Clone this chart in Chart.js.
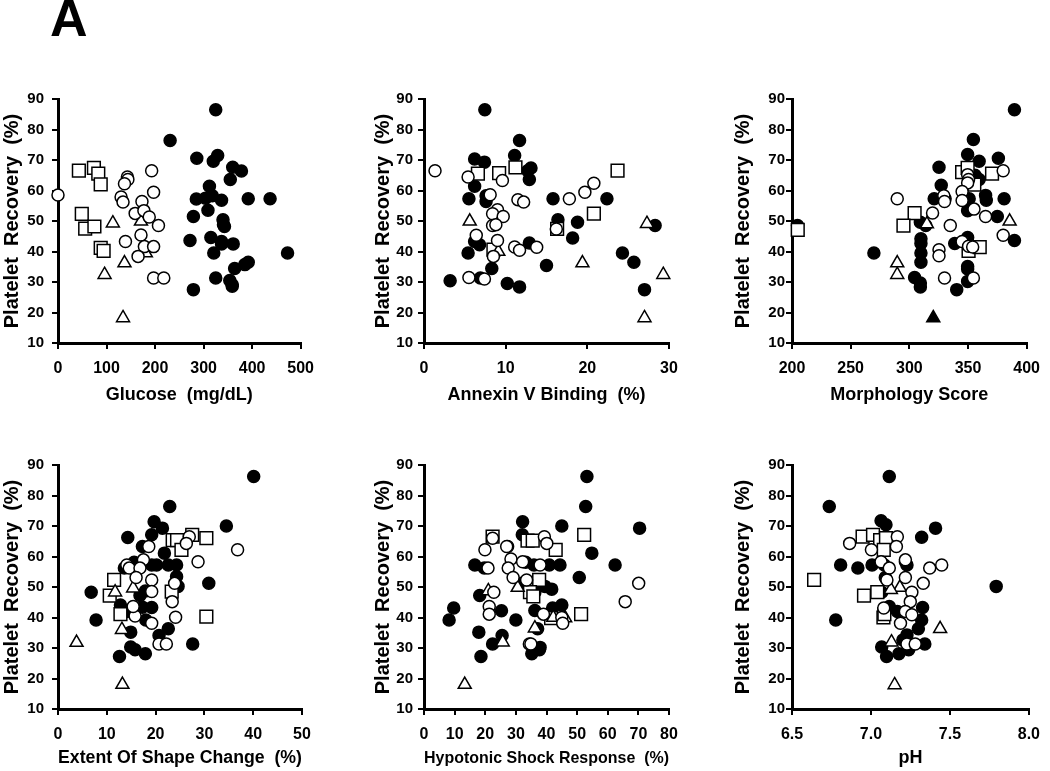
<!DOCTYPE html>
<html>
<head>
<meta charset="utf-8">
<title>Platelet Recovery</title>
<script src="https://cdn.jsdelivr.net/npm/chart.js@4/dist/chart.umd.min.js"></script>
<style>
  body { margin: 0; padding: 0; background: #fff; }
  #page { position: relative; width: 1050px; height: 771px; }
  .cell { position: absolute; }
  .cell canvas { display: block; }
  #letter {
    position: absolute; left: 50px; top: -8px;
    font: bold 52px "Liberation Sans Narrow", "Arial Narrow", "Liberation Sans", Arial, sans-serif;
    line-height: 52px;
  }
</style>
</head>
<body>
<div id="page">
  <div id="letter">A</div>
  <div class="cell" style="left:0px;top:79px"><canvas id="p1" width="324" height="327"></canvas></div>
  <div class="cell" style="left:371px;top:79px"><canvas id="p2" width="320" height="327"></canvas></div>
  <div class="cell" style="left:731px;top:79px"><canvas id="p3" width="319" height="327"></canvas></div>
  <div class="cell" style="left:0px;top:445px"><canvas id="p4" width="324" height="324"></canvas></div>
  <div class="cell" style="left:371px;top:445px"><canvas id="p5" width="320" height="324"></canvas></div>
  <div class="cell" style="left:731px;top:445px"><canvas id="p6" width="319" height="324"></canvas></div>
</div>
<script>
// Common axis values
var yTicks = [10, 20, 30, 40, 50, 60, 70, 80, 90];
var yTitle = 'Platelet  Recovery  (%)';

// Glucose (mg/dL)
var glucoseOpen = [[0,58.5],[143,64.4],[144,63.6],[137,62.2],[193,66.5],[197,59.4],[130,57.9],[134,56.2],[173,56.4],[159,52.5],[177,53.4],[188,51.3],[207,48.5],[171,45.4],[139,43.3],[178,41.6],[197,41.6],[165,38.4],[197,31.3],[218,31.3]];
var glucoseTriangle = [[113,49.3],[171,49.9],[96,32.4],[137,36.2],[134,18.2],[181,39.5]];
var glucoseSquare = [[43,66.5],[74,67.4],[83,65.5],[88,62],[49,52.3],[56,47.5],[75,48.2],[88,41.2],[94,40.2]];
var glucoseFilled = [[325,86.5],[231,76.4],[286,70.6],[329,71.5],[320,69.6],[360,67.6],[378,66.4],[355,63.6],[312,61.4],[285,57.2],[304,57.5],[318,58.3],[337,56.8],[392,57.3],[437,57.3],[309,53.5],[279,51.5],[340,50.4],[341,48.8],[343,48.2],[272,43.6],[315,44.6],[337,43.3],[337,42.5],[361,42.5],[321,39.5],[473,39.5],[385,35.7],[392,36.5],[364,34.4],[325,31.3],[354,30.5],[359,29.1],[359,28.6],[279,27.5]];

// Annexin V Binding (%)
var annexinOpen = [[1.35,66.5],[5.4,64.4],[9.6,63.3],[20.8,62.4],[19.7,59.4],[17.8,57.3],[8.1,58.6],[11.5,57],[12.2,56.2],[9,53.7],[8.4,52.4],[9.7,51.5],[8.4,48.5],[8.8,48.8],[6.4,45.3],[9,43.6],[11.1,41.5],[11.7,40.4],[13.8,41.4],[8.5,38.4],[5.5,31.5],[7.4,31],[16.2,47.4]];
var annexinTriangle = [[5.6,49.9],[27.3,49.1],[19.4,36.2],[29.3,32.4],[27,18.2],[9.1,40]];
var annexinSquare = [[6.6,65.5],[9.2,65.7],[11.2,67.6],[23.7,66.5],[20.8,52.4],[16.3,47.4],[8.5,40.6]];
var annexinFilled = [[7.45,86.5],[11.7,76.4],[11.1,71.5],[6.2,70.3],[7.4,69.3],[13.1,67.4],[12.7,66.5],[12.9,63.6],[6.2,61.4],[5.5,57.3],[7.6,58.3],[7.6,56.4],[15.8,57.3],[22.4,57.3],[16.4,50.4],[18.8,49.6],[28.3,48.5],[6.2,43.3],[6.8,42.2],[12.9,42.8],[18.2,44.4],[5.4,39.5],[24.3,39.5],[25.7,36.5],[15,35.4],[8.3,34.4],[3.2,30.4],[6.9,31.3],[10.2,29.5],[11.7,28.4],[27,27.5]];

// Morphology Score
var morphOpen = [[380,66.5],[349.7,65.2],[350.5,63.6],[349.7,62.5],[345,59.7],[289.7,57.3],[329.4,58.3],[330,56.4],[345,56.7],[355.1,53.9],[365,51.5],[319.8,52.6],[334.9,48.5],[380,45.3],[345,43.3],[350.5,41.7],[354,41.5],[325.3,40.6],[325.3,38.6],[330,31.3],[354.6,31.3]];
var morphTriangle = [[289.7,36.2],[289.7,32.4],[315,49],[385.5,49.9]];
var morphSquare = [[345,66],[349.7,67.4],[370.5,65.5],[355.4,61.9],[304.5,52.6],[295,48.5],[204.9,47.1],[350.5,40.2],[360,41.4]];
var morphFilled = [[389.6,86.5],[354.6,76.7],[349.7,71.8],[375.9,70.6],[359.5,69.6],[325.3,67.6],[359.5,63.6],[356,65],[327.2,61.7],[321.2,57.3],[330.5,57.3],[351,57.3],[365,58.4],[365.6,56.8],[380.8,57.3],[349.7,53.4],[375,51.5],[309.4,49.6],[314,48.5],[204.7,48.5],[389.6,43.6],[309.9,44.2],[309.9,42.6],[338.7,42.6],[349.7,44.6],[309.9,39.5],[269.8,39.5],[309.9,36.5],[349.7,35.1],[349.7,34.3],[304.5,31.5],[309.4,29.7],[309.4,28.4],[349.7,30.2],[340.4,27.5]];
var morphFilledTriangle = [[320.4,18.2]];

// Extent Of Shape Change (%)
var shapeOpen = [[26.9,66.5],[26.3,64.3],[18.6,63.3],[17.5,58.9],[28.7,58.3],[36.8,62.2],[14.1,57.2],[14.6,56.2],[16.8,56.2],[16,53.1],[19.2,52.3],[23.9,51.2],[19.2,48.5],[23.4,45.2],[15.8,40.5],[19.2,38.1],[24.1,40.1],[20.7,31.3],[22.2,31.3],[15.4,43.6]];
var shapeTriangle = [[3.8,31.8],[13.2,18],[13.1,36],[15.4,49.6],[11.7,48.3]];
var shapeSquare = [[11.5,52.3],[10.6,47.2],[12.8,41.1],[23.5,65.4],[24.4,65.4],[25.3,62.2],[27.5,67.1],[30.4,66],[30.4,40.3],[23.3,48.5]];
var shapeFilled = [[40.1,86.2],[22.9,76.4],[34.5,70],[19.7,71.4],[21.4,69.3],[19.2,67.1],[14.3,66.2],[17.3,63.3],[21.8,61.1],[15.6,58.1],[19.2,57.2],[20.2,57.2],[22.6,57.2],[24.3,57.2],[13.6,56.2],[24.3,53.4],[30.9,51.2],[24.6,50.2],[17.9,48.7],[16.8,47.2],[6.8,48.3],[12.8,44.1],[19.2,43.3],[17.3,43.4],[14.1,42],[15.8,42.2],[7.8,39.2],[18,39.2],[14.9,35.2],[22.6,36.3],[20.7,34.1],[14.9,30.3],[15.8,29.4],[17.9,28.1],[27.6,31.3],[12.6,27.2]];

// Hypotonic Shock Response (%)
var hypoOpen = [[22.4,66],[19.9,62.2],[27,63.3],[39.3,66.5],[40.1,64.3],[28.4,59.2],[32.2,58.3],[27.5,56.2],[20.9,56.2],[37.9,57.2],[29.1,53.1],[33.5,52.3],[22.8,48.3],[21.3,43.6],[21.3,41.1],[39,41.1],[45,40],[45.3,38.1],[34.4,31.3],[34.9,31.3],[65.7,45.2],[70.1,51.2]];
var hypoTriangle = [[13.3,18],[30.6,49.8],[21,48.7],[36.2,36.5],[25.7,31.9],[42.2,40],[46.1,39.8]];
var hypoSquare = [[22.4,66.5],[33.8,65.2],[35.5,65.2],[43,62.2],[52.3,67.1],[37.6,52.3],[34.6,48.3],[35.7,46.9],[51.3,41.1],[41.5,39.8]];
var hypoFilled = [[53.2,86.2],[52.8,76.4],[70.4,69.3],[45,70],[32.2,71.4],[32.1,67.1],[27.3,63.3],[54.8,61.1],[16.6,57.2],[19.7,56.2],[33.2,58.1],[35.9,57.2],[40.9,57.2],[44.4,57.2],[62.4,57.2],[50.7,53.1],[31.9,51.2],[39.5,50.2],[41.7,49.3],[36.2,48.3],[18.2,47.2],[9.7,43.1],[8.2,39.2],[25.3,42.2],[36.2,42.3],[42,43.1],[45,44.1],[30,39.2],[37.1,36.3],[17.9,35.2],[25.5,34.1],[22.4,31.3],[18.6,27.2],[35.2,28.1],[37.7,29.4],[37.9,30.2]];

// pH
var phOpen = [[6.865,64.3],[7.003,62.2],[7.167,66.5],[7.161,63.3],[7.064,58.3],[7.116,56.2],[7.218,58.9],[7.372,56.2],[7.448,57.2],[7.218,53.1],[7.101,52.3],[7.331,51.2],[7.259,48.3],[7.249,45.2],[7.081,43.1],[7.218,42],[7.259,40.9],[7.187,38.1],[7.228,31.3],[7.28,31.3]];
var phTriangle = [[7.15,17.9],[7.438,36.3],[7.13,31.9],[7.183,49.8],[7.126,49.1]];
var phSquare = [[6.64,52.3],[6.947,66.5],[7.013,67.1],[7.058,65.4],[7.095,66],[7.081,62.2],[6.956,47.2],[7.04,48.3],[7.079,40],[7.085,41.1]];
var phFilled = [[7.116,86.2],[6.736,76.4],[7.064,71.7],[7.095,70.4],[7.409,69.3],[7.321,66.3],[6.808,57.2],[6.917,56.2],[7.007,57.2],[7.085,57.2],[7.218,58.3],[7.228,57.2],[7.091,53.1],[7.793,50.2],[7.068,48.3],[7.116,43.6],[7.327,43.3],[6.777,39.2],[7.321,39.2],[7.3,36.3],[7.228,34.3],[7.341,31.3],[7.068,30.3],[7.099,27.2],[7.177,28.1],[7.239,29.4],[7.202,32.6],[7.167,42]];

var FONT = '"Liberation Sans", Arial, sans-serif';

function toPoints(arr) {
  return arr.map(function(p) { return { x: p[0], y: p[1] }; });
}

// One dataset per marker type; the first one is drawn on top
function markerSet(points, style, radius, fill) {
  return {
    data: toPoints(points),
    pointStyle: style,
    pointRadius: radius,
    pointBackgroundColor: fill,
    pointBorderColor: '#000',
    pointBorderWidth: 1.5
  };
}

function makePanel(cfg) {
  var datasets = [
    markerSet(cfg.open, 'circle', 6, '#fff'),
    markerSet(cfg.triangle, 'triangle', 7.5, '#fff'),
    markerSet(cfg.square, 'rect', 9, '#fff'),
    markerSet(cfg.filled, 'circle', 6, '#000')
  ];
  if (cfg.filledTriangle) {
    datasets.push(markerSet(cfg.filledTriangle, 'triangle', 7.5, '#000'));
  }

  new Chart(document.getElementById(cfg.id), {
    type: 'scatter',
    data: { datasets: datasets },
    options: {
      responsive: false,
      animation: false,
      clip: false,
      layout: { padding: { top: 20, right: cfg.padRight, bottom: 0, left: 0 } },
      plugins: { legend: { display: false }, tooltip: { enabled: false } },
      scales: {
        x: {
          min: cfg.xTicks[0],
          max: cfg.xTicks[cfg.xTicks.length - 1],
          afterFit: function(scale) { scale.height = cfg.xh; },
          afterBuildTicks: function(scale) {
            scale.ticks = cfg.xTicks.map(function(v) { return { value: v }; });
          },
          ticks: {
            color: '#000',
            padding: 10,
            maxRotation: 0,
            autoSkip: false,
            font: { family: FONT, size: 16, weight: 'bold' },
            callback: function(v) { return cfg.xFmt ? v.toFixed(1) : String(v); }
          },
          grid: { drawOnChartArea: false, color: '#000', lineWidth: 2, tickLength: 6 },
          border: { color: '#000', width: 3 },
          title: {
            display: true,
            text: cfg.xTitle,
            color: '#000',
            padding: 0,
            font: { family: FONT, size: cfg.xTitleSize || 18, weight: 'bold' }
          }
        },
        y: {
          min: 10,
          max: 90,
          afterFit: function(scale) { scale.width = cfg.yw; },
          afterBuildTicks: function(scale) {
            scale.ticks = yTicks.map(function(v) { return { value: v }; });
          },
          ticks: {
            color: '#000',
            padding: cfg.tickPad,
            autoSkip: false,
            font: { family: FONT, size: 15, weight: 'bold' }
          },
          grid: { drawOnChartArea: false, color: '#000', lineWidth: 2, tickLength: 6 },
          border: { color: '#000', width: 3 },
          title: {
            display: true,
            text: yTitle,
            color: '#000',
            padding: 0,
            font: { family: FONT, size: 20, weight: 'bold' }
          }
        }
      }
    }
  });
}

// Row 1
makePanel({ id: 'p1', yw: 58, tickPad: 8, padRight: 22, xh: 63,
  xTicks: [0, 100, 200, 300, 400, 500], xTitle: 'Glucose  (mg/dL)',
  open: glucoseOpen, triangle: glucoseTriangle, square: glucoseSquare, filled: glucoseFilled });
makePanel({ id: 'p2', yw: 53, tickPad: 5, padRight: 22, xh: 63,
  xTicks: [0, 10, 20, 30], xTitle: 'Annexin V Binding  (%)',
  open: annexinOpen, triangle: annexinTriangle, square: annexinSquare, filled: annexinFilled });
makePanel({ id: 'p3', yw: 61, tickPad: 1, padRight: 15, xh: 63,
  xTicks: [200, 250, 300, 350, 400], xTitle: 'Morphology Score',
  open: morphOpen, triangle: morphTriangle, square: morphSquare, filled: morphFilled, filledTriangle: morphFilledTriangle });

// Row 2
makePanel({ id: 'p4', yw: 58, tickPad: 8, padRight: 22, xh: 60,
  xTicks: [0, 10, 20, 30, 40, 50], xTitle: 'Extent Of Shape Change  (%)',
  open: shapeOpen, triangle: shapeTriangle, square: shapeSquare, filled: shapeFilled });
makePanel({ id: 'p5', yw: 53, tickPad: 5, padRight: 22, xh: 60,
  xTicks: [0, 10, 20, 30, 40, 50, 60, 70, 80], xTitle: 'Hypotonic Shock Response  (%)', xTitleSize: 17,
  open: hypoOpen, triangle: hypoTriangle, square: hypoSquare, filled: hypoFilled });
makePanel({ id: 'p6', yw: 61, tickPad: 1, padRight: 15, xh: 60,
  xTicks: [6.5, 7.0, 7.5, 8.0], xFmt: true, xTitle: 'pH',
  open: phOpen, triangle: phTriangle, square: phSquare, filled: phFilled });
</script>
</body>
</html>
